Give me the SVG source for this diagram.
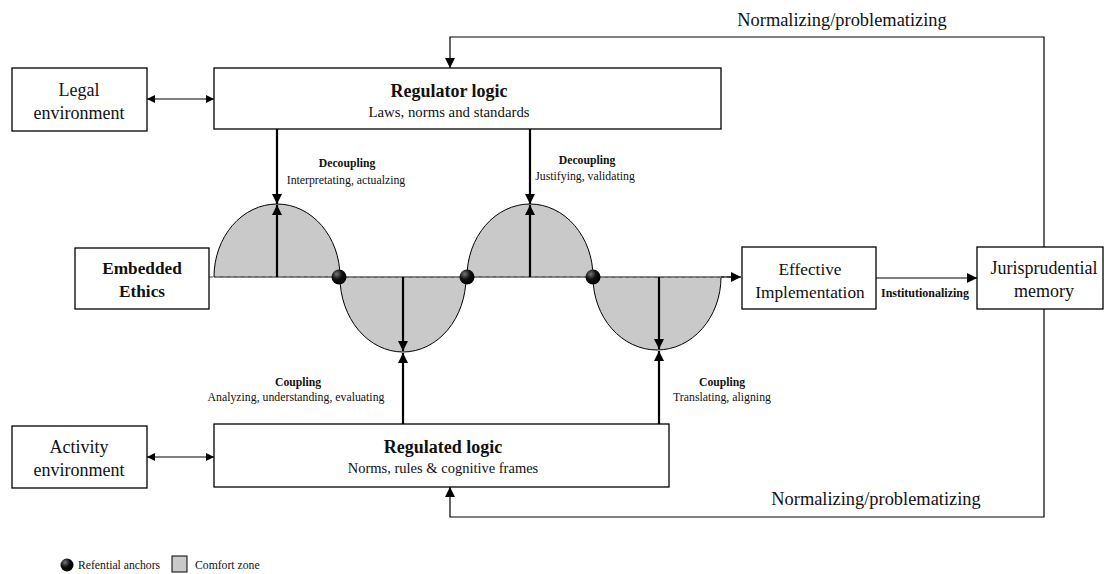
<svg xmlns="http://www.w3.org/2000/svg" width="1104" height="574" viewBox="0 0 1104 574">
<style>
.box{fill:#fff;stroke:#000;stroke-width:1.3}
.t{font-family:"Liberation Serif",serif;fill:#111}
.ln{fill:none;stroke:#000;stroke-width:1.2}
.th{fill:none;stroke:#000;stroke-width:2.2}
.zone{fill:#c9c9c9;stroke:#000;stroke-width:1}
</style>
<defs>
<marker id="ah" viewBox="0 0 10 10" refX="10" refY="5" markerWidth="10" markerHeight="10" markerUnits="userSpaceOnUse" orient="auto"><path d="M0,0 L10,5 L0,10 z" fill="#000"/></marker>
<marker id="ahs" viewBox="0 0 10 10" refX="10" refY="5" markerWidth="8" markerHeight="8" markerUnits="userSpaceOnUse" orient="auto-start-reverse"><path d="M0,0 L10,5 L0,10 z" fill="#000"/></marker>
<radialGradient id="ball" cx="0.35" cy="0.3" r="0.7"><stop offset="0" stop-color="#777"/><stop offset="0.5" stop-color="#111"/><stop offset="1" stop-color="#000"/></radialGradient>
</defs>
<g id="zones">
<path class="zone" d="M214,277 A63,73 0 0 1 340,277 Z"/>
<path class="zone" d="M340,277 A63,75 0 0 0 466,277 Z"/>
<path class="zone" d="M467,277 A63,73 0 0 1 593,277 Z"/>
<path class="zone" d="M593,277 A64,73 0 0 0 721,277 Z"/>
</g>
<g id="connectors">
<line x1="209" y1="277" x2="741" y2="277" stroke="#888" stroke-width="1.3" stroke-dasharray="4,3"/>
<line x1="721" y1="277" x2="741" y2="277" stroke="#000" stroke-width="1.2" marker-end="url(#ah)"/>
<line class="th" x1="277" y1="129" x2="277" y2="204" marker-end="url(#ah)"/>
<line class="th" x1="277" y1="277" x2="277" y2="205" marker-end="url(#ah)"/>
<line class="th" x1="530" y1="129" x2="530" y2="204" marker-end="url(#ah)"/>
<line class="th" x1="530" y1="277" x2="530" y2="205" marker-end="url(#ah)"/>
<line class="th" x1="403" y1="277" x2="403" y2="351" marker-end="url(#ah)"/>
<line class="th" x1="403" y1="424" x2="403" y2="353" marker-end="url(#ah)"/>
<line class="th" x1="659" y1="277" x2="659" y2="349" marker-end="url(#ah)"/>
<line class="th" x1="659" y1="424" x2="659" y2="351" marker-end="url(#ah)"/>
<line class="ln" x1="147" y1="99" x2="214" y2="99" marker-start="url(#ahs)" marker-end="url(#ahs)"/>
<line class="ln" x1="147" y1="457" x2="214" y2="457" marker-start="url(#ahs)" marker-end="url(#ahs)"/>
<line class="ln" x1="876" y1="278" x2="977" y2="278" marker-end="url(#ah)"/>
<polyline class="ln" points="1044,247 1044,37 450,37 450,68" marker-end="url(#ah)"/>
<polyline class="ln" points="1044,309 1044,517 450,517 450,487" marker-end="url(#ah)"/>
</g>
<g id="anchors">
<circle cx="339" cy="277" r="7.5" fill="url(#ball)"/>
<circle cx="467" cy="277" r="7.5" fill="url(#ball)"/>
<circle cx="593" cy="277" r="7.5" fill="url(#ball)"/>
</g>
<g id="legal">
<rect class="box" x="12" y="68" width="135" height="63"/>
<text class="t" font-size="18" text-anchor="middle" x="79" y="96">Legal</text>
<text class="t" font-size="18" text-anchor="middle" x="79" y="119">environment</text>
</g>
<g id="regulator">
<rect class="box" x="214" y="68" width="507" height="61"/>
<text class="t" font-size="18" font-weight="bold" text-anchor="middle" x="449" y="97">Regulator logic</text>
<text class="t" font-size="14.8" text-anchor="middle" x="449" y="117">Laws, norms and standards</text>
</g>
<g id="embedded">
<rect class="box" x="75" y="248" width="134" height="61"/>
<text class="t" font-size="17.3" font-weight="bold" text-anchor="middle" x="142" y="274">Embedded</text>
<text class="t" font-size="17.3" font-weight="bold" text-anchor="middle" x="142" y="297">Ethics</text>
</g>
<g id="effective">
<rect class="box" x="742" y="247" width="134" height="62"/>
<text class="t" font-size="17.3" text-anchor="middle" x="810" y="275">Effective</text>
<text class="t" font-size="17.3" text-anchor="middle" x="810" y="298">Implementation</text>
</g>
<g id="jurisprudential">
<rect class="box" x="977" y="247" width="126" height="62"/>
<text class="t" font-size="18" text-anchor="middle" x="1044" y="274">Jurisprudential</text>
<text class="t" font-size="18" text-anchor="middle" x="1044" y="297">memory</text>
</g>
<g id="activity">
<rect class="box" x="12" y="426" width="135" height="62"/>
<text class="t" font-size="18" text-anchor="middle" x="79" y="453">Activity</text>
<text class="t" font-size="18" text-anchor="middle" x="79" y="476">environment</text>
</g>
<g id="regulated">
<rect class="box" x="214" y="424" width="455" height="63"/>
<text class="t" font-size="18" font-weight="bold" text-anchor="middle" x="443" y="453">Regulated logic</text>
<text class="t" font-size="14.5" text-anchor="middle" x="443" y="473">Norms, rules &amp; cognitive frames</text>
</g>
<g id="labels">
<text class="t" font-size="11.7" font-weight="bold" text-anchor="middle" x="347" y="167">Decoupling</text>
<text class="t" font-size="11.8" text-anchor="middle" x="346" y="184">Interpretating, actualzing</text>
<text class="t" font-size="11.7" font-weight="bold" text-anchor="middle" x="587" y="164">Decoupling</text>
<text class="t" font-size="11.8" text-anchor="middle" x="585" y="180">Justifying, validating</text>
<text class="t" font-size="11.7" font-weight="bold" text-anchor="middle" x="298" y="386">Coupling</text>
<text class="t" font-size="11.8" text-anchor="middle" x="296" y="401">Analyzing, understanding, evaluating</text>
<text class="t" font-size="11.7" font-weight="bold" text-anchor="middle" x="722" y="386">Coupling</text>
<text class="t" font-size="11.8" text-anchor="middle" x="722" y="401">Translating, aligning</text>
<text class="t" font-size="12" font-weight="bold" text-anchor="middle" x="925" y="297">Institutionalizing</text>
<text class="t" font-size="18.4" text-anchor="middle" x="842" y="26">Normalizing/problematizing</text>
<text class="t" font-size="18.4" text-anchor="middle" x="876" y="505">Normalizing/problematizing</text>
</g>
<g id="legend">
<circle cx="67" cy="565" r="6.5" fill="url(#ball)"/>
<text class="t" font-size="11.7" x="78" y="569">Refential anchors</text>
<rect x="172" y="556" width="15" height="16" fill="#c9c9c9" stroke="#000" stroke-width="1"/>
<text class="t" font-size="11.7" x="195" y="569">Comfort zone</text>
</g>
</svg>
